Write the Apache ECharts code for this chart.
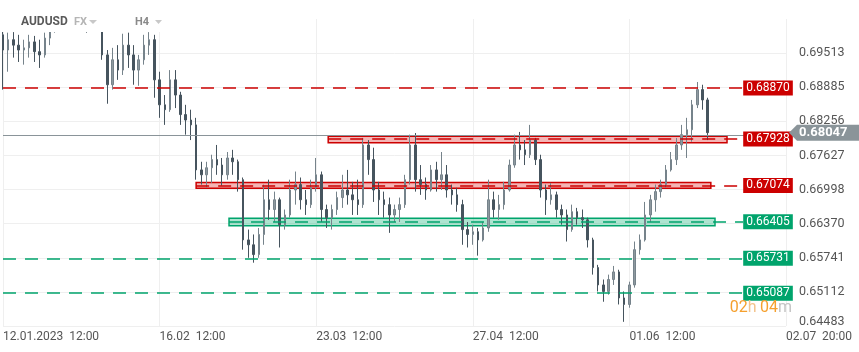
<!DOCTYPE html>
<html>
<head>
<meta charset="utf-8">
<script src="https://cdn.jsdelivr.net/npm/echarts@6/dist/echarts.min.js"></script>
<style>
  html, body { margin: 0; padding: 0; background: #fff; }
  #main { width: 859px; height: 352px; }
</style>
</head>
<body>
<div id="main"></div>
<script>
const opens = [
  0.6985,0.6957,0.6976,0.6966,0.6957,0.6961,0.6972,0.6954,0.6948,0.6979,
  0.6994,0.7009,0.7016,0.7013,0.7003,0.7022,0.7013,0.6998,0.7013,0.7003,
  0.6948,0.6893,0.6939,0.6920,0.6966,0.6948,0.6920,0.6939,0.6966,0.6976,
  0.6902,0.6856,0.6847,0.6902,0.6874,0.6838,0.6828,0.6819,0.6736,0.6727,
  0.6740,0.6755,0.6745,0.6727,0.6758,0.6751,0.6718,0.6607,0.6598,0.6580,
  0.6617,0.6681,0.6663,0.6681,0.6635,0.6653,0.6699,0.6709,0.6681,0.6672,
  0.6703,0.6727,0.6663,0.6648,0.6663,0.6685,0.6699,0.6690,0.6681,0.6672,
  0.6782,0.6755,0.6699,0.6681,0.6672,0.6653,0.6663,0.6672,0.6718,0.6782,
  0.6718,0.6709,0.6699,0.6736,0.6718,0.6727,0.6699,0.6690,0.6672,0.6626,
  0.6617,0.6622,0.6607,0.6629,0.6681,0.6663,0.6672,0.6699,0.6745,0.6782,
  0.6773,0.6764,0.6791,0.6755,0.6699,0.6681,0.6690,0.6663,0.6653,0.6626,
  0.6659,0.6648,0.6644,0.6607,0.6556,0.6524,0.6512,0.6534,0.6548,0.6500,
  0.6488,0.6524,0.6589,0.6607,0.6653,0.6681,0.6696,0.6709,0.6736,0.6755,
  0.6782,0.6801,0.6810,0.6856,0.6884,0.6865
];
const highs = [
  0.6994,0.6989,0.6990,0.6985,0.6976,0.6985,0.6983,0.6976,0.6989,0.7001,
  0.7022,0.7031,0.7035,0.7031,0.7027,0.7040,0.7027,0.7022,0.7031,0.7013,
  0.6957,0.6961,0.6966,0.6987,0.6989,0.6966,0.6948,0.6985,0.6990,0.6985,
  0.6917,0.6874,0.6920,0.6920,0.6880,0.6856,0.6847,0.6832,0.6751,0.6751,
  0.6764,0.6782,0.6758,0.6769,0.6773,0.6755,0.6722,0.6626,0.6617,0.6629,
  0.6709,0.6718,0.6696,0.6685,0.6663,0.6718,0.6733,0.6722,0.6699,0.6718,
  0.6758,0.6733,0.6672,0.6672,0.6696,0.6727,0.6736,0.6714,0.6718,0.6795,
  0.6791,0.6777,0.6714,0.6696,0.6685,0.6672,0.6685,0.6727,0.6801,0.6804,
  0.6745,0.6722,0.6745,0.6751,0.6769,0.6745,0.6709,0.6703,0.6681,0.6640,
  0.6635,0.6629,0.6640,0.6718,0.6696,0.6690,0.6714,0.6755,0.6801,0.6806,
  0.6791,0.6819,0.6795,0.6764,0.6709,0.6712,0.6696,0.6672,0.6663,0.6672,
  0.6666,0.6663,0.6648,0.6611,0.6561,0.6534,0.6543,0.6559,0.6552,0.6512,
  0.6530,0.6604,0.6617,0.6677,0.6690,0.6709,0.6718,0.6745,0.6769,0.6795,
  0.6819,0.6832,0.6865,0.6898,0.6893,0.6869
];
const lows = [
  0.6884,0.6917,0.6943,0.6935,0.6930,0.6943,0.6935,0.6924,0.6943,0.6966,
  0.6989,0.6998,0.7001,0.6994,0.6992,0.6998,0.6989,0.6994,0.6994,0.6939,
  0.6858,0.6884,0.6902,0.6911,0.6924,0.6893,0.6891,0.6930,0.6948,0.6869,
  0.6832,0.6819,0.6843,0.6850,0.6819,0.6801,0.6791,0.6718,0.6709,0.6703,
  0.6712,0.6727,0.6707,0.6718,0.6727,0.6696,0.6589,0.6574,0.6565,0.6574,
  0.6598,0.6644,0.6640,0.6593,0.6626,0.6648,0.6672,0.6663,0.6653,0.6666,
  0.6696,0.6640,0.6629,0.6626,0.6653,0.6666,0.6672,0.6653,0.6653,0.6666,
  0.6727,0.6677,0.6653,0.6648,0.6620,0.6640,0.6640,0.6666,0.6709,0.6696,
  0.6690,0.6681,0.6696,0.6696,0.6699,0.6685,0.6672,0.6659,0.6598,0.6593,
  0.6598,0.6578,0.6604,0.6622,0.6648,0.6644,0.6663,0.6696,0.6740,0.6755,
  0.6745,0.6758,0.6745,0.6685,0.6653,0.6672,0.6648,0.6635,0.6604,0.6622,
  0.6635,0.6629,0.6593,0.6543,0.6512,0.6493,0.6506,0.6524,0.6488,0.6456,
  0.6482,0.6519,0.6580,0.6604,0.6640,0.6659,0.6685,0.6703,0.6733,0.6745,
  0.6773,0.6758,0.6788,0.6850,0.6847,0.6791
];
const closes = [
  0.6957,0.6976,0.6966,0.6957,0.6961,0.6972,0.6954,0.6948,0.6979,0.6994,
  0.7009,0.7016,0.7013,0.7003,0.7022,0.7013,0.6998,0.7013,0.7003,0.6948,
  0.6893,0.6939,0.6920,0.6966,0.6948,0.6920,0.6939,0.6966,0.6976,0.6902,
  0.6856,0.6847,0.6902,0.6874,0.6838,0.6828,0.6819,0.6736,0.6727,0.6740,
  0.6755,0.6745,0.6727,0.6758,0.6751,0.6718,0.6607,0.6598,0.6580,0.6617,
  0.6681,0.6663,0.6681,0.6635,0.6653,0.6699,0.6709,0.6681,0.6672,0.6703,
  0.6727,0.6663,0.6648,0.6663,0.6685,0.6699,0.6690,0.6681,0.6672,0.6782,
  0.6755,0.6699,0.6681,0.6672,0.6653,0.6663,0.6672,0.6718,0.6782,0.6718,
  0.6709,0.6699,0.6736,0.6718,0.6727,0.6699,0.6690,0.6672,0.6626,0.6617,
  0.6622,0.6607,0.6629,0.6681,0.6663,0.6672,0.6699,0.6745,0.6782,0.6773,
  0.6764,0.6791,0.6755,0.6699,0.6681,0.6690,0.6663,0.6653,0.6626,0.6659,
  0.6648,0.6644,0.6607,0.6556,0.6524,0.6512,0.6534,0.6548,0.6500,0.6488,
  0.6524,0.6589,0.6607,0.6653,0.6681,0.6696,0.6709,0.6736,0.6755,0.6782,
  0.6801,0.6810,0.6856,0.6884,0.6865,0.68047
];

const xLabels = ['12.01.2023  12:00', '16.02  12:00', '23.03  12:00', '27.04  12:00', '01.06  12:00', '02.07  20:00'];
const xStep = 30;
const xMax = 150;

const yMin = 0.64483;
const yStep = 0.0062875;
const yLabels = ['0.64483', '0.65112', '0.65741', '0.66370', '0.66998', '0.67627', '0.68256', '0.68885', '0.69513'];

const lastPrice = 0.68047;
const lastPriceText = '0.68047';

// support / resistance levels
const levelValues = [0.68870, 0.67928, 0.67074, 0.66405, 0.65731, 0.65087];
const levelTexts = ['0.68870', '0.67928', '0.67074', '0.66405', '0.65731', '0.65087'];
const levelKinds = ['res', 'res', 'res', 'sup', 'sup', 'sup'];
const levelFrom = [0, 62.3, 37, 43.3, 0, 0];
const levelTo = 141.8;

// zones: [from, to, low, high, kind]
const zones = [
  [62.3, 138.7, 0.6786, 0.6798, 'res'],
  [37.0, 135.6, 0.6702, 0.6713, 'res'],
  [43.3, 136.4, 0.6633, 0.6647, 'sup']
];

const RED = '#cc0000';
const GREEN = '#00a46c';
const colorOf = k => (k === 'res' ? RED : GREEN);

const candles = opens.map((o, i) => [i, o, closes[i], lows[i], highs[i]]);

const chart = echarts.init(document.getElementById('main'), null, { renderer: 'canvas' });

const option = {
  animation: false,
  backgroundColor: '#fff',
  grid: { left: 3, right: 73, top: 19, bottom: 26 },
  xAxis: {
    type: 'value',
    min: 0,
    max: xMax,
    interval: xStep,
    axisLine: { show: false },
    axisTick: { show: false },
    splitLine: { show: true, lineStyle: { color: '#efefef', width: 1 } },
    axisLabel: {
      align: 'left',
      margin: 5,
      color: '#555',
      fontSize: 12,
      fontFamily: 'Roboto',
      formatter: v => xLabels[Math.round(v / xStep)] || ''
    }
  },
  yAxis: {
    type: 'value',
    position: 'right',
    min: yMin,
    max: yMin + 9 * yStep,
    interval: yStep,
    axisLine: { show: false },
    axisTick: { show: false },
    splitLine: { show: true, showMaxLine: false, lineStyle: { color: '#efefef', width: 1 } },
    axisLabel: {
      margin: 13,
      color: '#555',
      fontSize: 12.5,
      fontFamily: 'Roboto',
      formatter: v => {
        const k = Math.round((v - yMin) / yStep);
        if (k === 0) return '{b|' + yLabels[0] + '}';
        return yLabels[k] || '';
      },
      rich: { b: { fontSize: 12.5, fontFamily: 'Roboto', color: '#555', padding: [0, 0, 8, 0] } }
    }
  },
  series: [
    {
      type: 'candlestick',
      data: candles,
      encode: { x: 0, y: [1, 2, 3, 4] },
      barWidth: 2,
      clip: true,
      z: 3,
      itemStyle: {
        color: '#8e999f',
        color0: '#46545e',
        borderColor: '#76838b',
        borderColor0: '#46545e',
        borderWidth: 1
      }
    },
    {
      type: 'line',
      data: [],
      clip: false,
      silent: true,
      z: 2,
      markArea: {
        silent: true,
        data: zones.map(z => [
          {
            coord: [z[0], z[2]],
            itemStyle: {
              color: z[4] === 'res' ? 'rgba(226,60,60,0.38)' : 'rgba(0,170,110,0.32)',
              borderColor: colorOf(z[4]),
              borderWidth: 1.5
            }
          },
          { coord: [z[1], z[3]] }
        ])
      },
      markLine: {
        silent: true,
        symbol: ['none', 'none'],
        data: levelValues.map((v, i) => [
          {
            coord: [levelFrom[i], v],
            lineStyle: { color: colorOf(levelKinds[i]), width: 1.5, type: [13, 9] },
            label: {
              show: true,
              position: 'end',
              distance: 0,
              formatter: levelTexts[i],
              color: '#fff',
              fontSize: 12,
              fontFamily: 'Roboto',
              lineHeight: 14,
              backgroundColor: colorOf(levelKinds[i]),
              padding: [1, 3, 0, 3]
            }
          },
          { coord: [levelTo, v] }
        ]).concat([
          {
            yAxis: lastPrice,
            lineStyle: { color: '#8a9499', width: 1, type: 'solid' },
            label: { show: false }
          }
        ])
      }
    }
  ]
};

chart.setOption(option);

// price tag, header and timer
const py = chart.convertToPixel({ yAxisIndex: 0 }, lastPrice);
chart.setOption({
  graphic: [
    {
      type: 'rect', z: 100,
      shape: { x: 0, y: 0, width: 250, height: 32 },
      style: { fill: '#fff' }
    },
    {
      type: 'text', z: 101, left: 21, top: 16,
      style: { text: 'AUDUSD', fill: '#5a5a5a', font: 'bold 12px Roboto' }
    },
    {
      type: 'text', z: 101, left: 74, top: 17,
      style: { text: 'FX', fill: '#b5b5b5', font: 'bold 11px Roboto' }
    },
    {
      type: 'polygon', z: 101,
      shape: { points: [[89, 20], [97, 20], [93, 24]] },
      style: { fill: '#c8c8c8' }
    },
    {
      type: 'text', z: 101, left: 135, top: 17,
      style: { text: 'H4', fill: '#8a8a8a', font: 'bold 11px Roboto' }
    },
    {
      type: 'polygon', z: 101,
      shape: { points: [[155, 20], [162, 20], [158.5, 24]] },
      style: { fill: '#c8c8c8' }
    },
    {
      type: 'polygon', z: 101,
      shape: { points: [[789, py], [797, py - 8], [859, py - 8], [859, py + 8], [797, py + 8]] },
      style: { fill: '#8a9499' }
    },
    {
      type: 'text', z: 102, x: 799, y: py,
      style: { text: lastPriceText, fill: '#fff', font: 'bold 13px Roboto', textVerticalAlign: 'middle', verticalAlign: 'middle' }
    },
    {
      type: 'text', z: 101, x: 792, y: 308,
      style: {
        text: '{n|02}{u|h} {n|04}{m|m}',
        align: 'right',
        verticalAlign: 'middle',
        rich: {
          n: { fill: '#f5a02e', font: '16px Roboto' },
          u: { fill: '#f3c38c', font: '16px Roboto' },
          m: { fill: '#c4c4c4', font: '16px Roboto' }
        }
      }
    }
  ]
});
</script>
</body>
</html>
